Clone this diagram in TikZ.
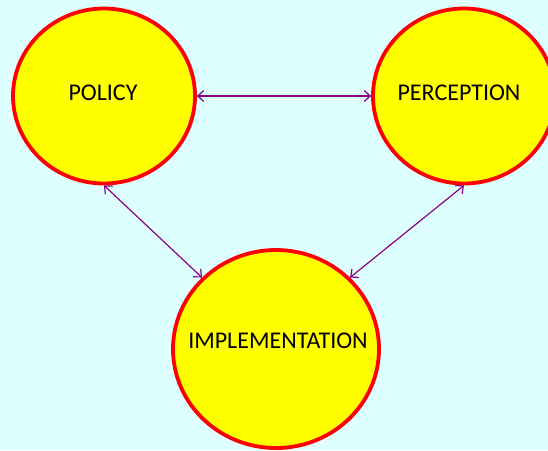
\documentclass[tikz,border=0pt]{standalone}
\usepackage{fontspec}
\setmainfont{Carlito}
\usetikzlibrary{shapes.geometric,arrows.meta}
\definecolor{bgcyan}{HTML}{DDFFFF}
\definecolor{ballred}{HTML}{FF0000}
\definecolor{ballyellow}{HTML}{FFFF00}
\definecolor{linkpurple}{HTML}{8B008B}
\tikzset{
  ball/.style={ellipse, draw=ballred, fill=ballyellow, line width=3.8pt, inner sep=0pt},
  lab/.style={inner sep=0pt, font=\fontsize{24}{28}\selectfont, text=black},
  link/.style={draw=linkpurple, line width=1.2pt, {Straight Barb[length=6pt,width=11pt]}-{Straight Barb[length=6pt,width=11pt]}}
}
\begin{document}
\begin{tikzpicture}[x=1pt,y=-1pt]
\fill[bgcyan] (0,0) rectangle (548,450);
\useasboundingbox (0,0) rectangle (548,450);
\begin{scope}
\clip (0,0) rectangle (548,450);
\node[ball, minimum width=182pt, minimum height=175pt] (policy) at (104,96) {};
\node[ball, minimum width=182pt, minimum height=175pt] (perception) at (464,96) {};
\node[ball, minimum width=206pt, minimum height=198pt] (impl) at (276,349) {};
\end{scope}
\node[lab] (policyt) at (103,93) {POLICY};
\node[lab] (perceptiont) at (459,93) {PERCEPTION};
\node[lab] (implt) at (278,341) {IMPLEMENTATION};
\draw[link] (policy.east) -- (perception.west);
\draw[link] (policy.south) -- (impl.136);
\draw[link] (perception.south) -- (impl.44);
\end{tikzpicture}
\end{document}
